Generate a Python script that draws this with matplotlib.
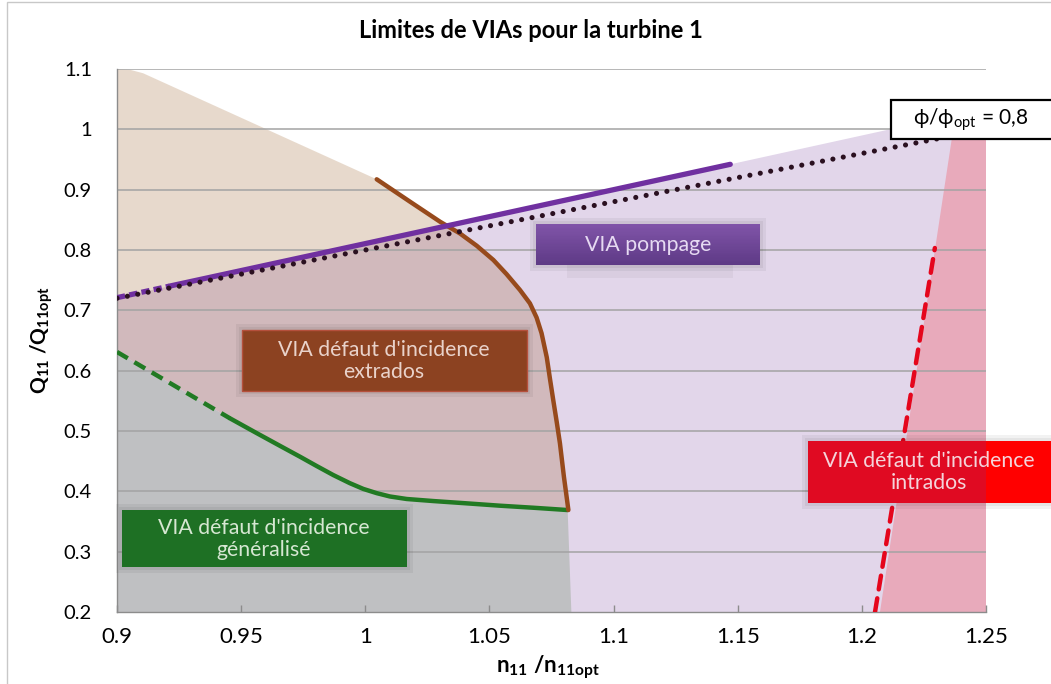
import numpy as np
import matplotlib
matplotlib.use('Agg')
import matplotlib.pyplot as plt
from matplotlib.patches import Polygon, Rectangle

# ---------------- data ----------------
x_ticks = [0.9, 0.95, 1.0, 1.05, 1.1, 1.15, 1.2, 1.25]
x_tick_labels = ['0.9', '0.95', '1', '1.05', '1.1', '1.15', '1.2', '1.25']
y_ticks = [0.2, 0.3, 0.4, 0.5, 0.6, 0.7, 0.8, 0.9, 1.0, 1.1]
y_tick_labels = ['0.2', '0.3', '0.4', '0.5', '0.6', '0.7', '0.8', '0.9', '1', '1.1']

# generalised incidence limit (green)
green_dash_n = [0.9, 0.9455]
green_dash_q = [0.631, 0.521]
green_n = [0.9455, 0.9563, 0.9656, 0.9737, 0.9804, 0.9871, 0.9938, 0.9992, 1.0046,
           1.0099, 1.0167, 1.0274, 1.0408, 1.0542, 1.0677, 1.0815]
green_q = [0.521, 0.4964, 0.4755, 0.4574, 0.4420, 0.4270, 0.4135, 0.4040, 0.3970,
           0.3915, 0.3873, 0.3839, 0.3801, 0.3762, 0.3728, 0.369]

# suction-side incidence limit (brown)
brown_n = [1.0046, 1.0180, 1.0301, 1.0381, 1.0449, 1.0516, 1.0569, 1.0623, 1.0663, 1.0690,
           1.0710, 1.0731, 1.0744, 1.0757, 1.0771, 1.0784, 1.0792, 1.0800, 1.0809, 1.0818]
brown_q = [0.9172, 0.8801, 0.8469, 0.8275, 0.8070, 0.7834, 0.7600, 0.7337, 0.7116, 0.6880,
           0.6620, 0.6220, 0.5860, 0.5513, 0.5150, 0.4796, 0.4519, 0.4242, 0.3967, 0.369]

# upper edge of the extrados zone
tan_top_n = [0.9, 0.905, 0.9105, 1.0046]
tan_top_q = [1.1, 1.099, 1.093, 0.9172]

# pumping limit (purple)
purple_dash_n = [0.9, 0.921]
purple_dash_q = [0.721, 0.740]
purple_n = [0.921, 1.147]
purple_q = [0.740, 0.942]

# upper edge of the pumping zone
pompage_top_n = [0.9, 1.147, 1.2113, 1.25]
pompage_top_q = [0.721, 0.942, 1.0, 1.0]

# phi/phi_opt = 0.8 line
phi_n = [0.9, 1.24]
phi_q = [0.72, 0.992]

# pressure-side incidence zone (pink) left edge
intrados_edge_n = [1.2073, 1.2368]
intrados_edge_q = [0.2, 1.0]

# pressure-side incidence limit (red dashed)
red_n = [1.2053, 1.2294]
red_q = [0.2, 0.8033]

gray_right_n = 1.083

# ---------------- style ----------------
plt.rcParams['font.family'] = ['Lato', 'DejaVu Sans']
plt.rcParams['mathtext.fontset'] = 'custom'
plt.rcParams['mathtext.rm'] = 'Lato'
plt.rcParams['mathtext.bf'] = 'Lato:bold'
plt.rcParams['mathtext.it'] = 'Lato:italic'
plt.rcParams['lines.scale_dashes'] = False

W, H = 1051, 684
fig = plt.figure(figsize=(W / 100, H / 100), dpi=100)
ax = fig.add_axes([117 / W, 1 - 612 / H, 869 / W, 543 / H])
ax.set_xlim(0.9, 1.25)
ax.set_ylim(0.2, 1.1)

# ---------------- filled zones ----------------
lav = list(zip([0.9] + pompage_top_n + [1.25], [0.2] + pompage_top_q + [0.2]))
ax.add_patch(Polygon(lav, closed=True, facecolor='#e2d6ea', edgecolor='none', zorder=1))

pink = [(intrados_edge_n[0], intrados_edge_q[0]), (intrados_edge_n[1], intrados_edge_q[1]),
        (1.25, 1.0), (1.25, 0.2)]
ax.add_patch(Polygon(pink, closed=True, facecolor='#e8aabb', edgecolor='none', zorder=1.1))

all_green_n = green_dash_n + green_n[1:]
all_green_q = green_dash_q + green_q[1:]
tan = (list(zip(tan_top_n, tan_top_q)) + list(zip(brown_n[1:], brown_q[1:]))
       + list(zip(all_green_n[::-1], all_green_q[::-1])))
ax.add_patch(Polygon(tan, closed=True, facecolor=(150 / 255, 86 / 255, 27 / 255), alpha=0.22,
                     edgecolor='none', zorder=1.2))

gray = ([(0.9, 0.2)] + list(zip(all_green_n, all_green_q)) + [(gray_right_n, 0.2)])
ax.add_patch(Polygon(gray, closed=True, facecolor='#bfc0c2', edgecolor='none', zorder=1.3))

# ---------------- grid / axes ----------------
for yv in y_ticks[1:]:
    ax.axhline(yv, color='#a3a3a3', lw=1.1, zorder=2)

ax.set_xticks(x_ticks)
ax.set_xticklabels(x_tick_labels, fontsize=16)
ax.set_yticks(y_ticks)
ax.set_yticklabels(y_tick_labels, fontsize=14.5)
ax.tick_params(axis='x', direction='in', length=5, color='#8c8c8c', width=1, pad=11)
ax.tick_params(axis='y', length=0, pad=18)
for s in ['top', 'right']:
    ax.spines[s].set_visible(False)
for s in ['left', 'bottom']:
    ax.spines[s].set_color('#8c8c8c')
    ax.spines[s].set_linewidth(1)
    ax.spines[s].set_zorder(2.5)
ax.set_facecolor('white')

# ---------------- curves ----------------
ax.plot(green_dash_n, green_dash_q, color='#217a23', lw=3.2, dashes=(9, 5.5), dash_capstyle='butt', zorder=4)
ax.plot(green_n, green_q, color='#217a23', lw=3.2, solid_capstyle='round', solid_joinstyle='round', zorder=4)
ax.plot(brown_n, brown_q, color='#974a1c', lw=3.2, solid_capstyle='round', solid_joinstyle='round', zorder=4)
ax.plot(purple_dash_n, purple_dash_q, color='#7030a0', lw=3.8, dashes=(6, 3), zorder=4)
ax.plot(purple_n, purple_q, color='#7030a0', lw=3.8, solid_capstyle='round', zorder=4)
ax.plot(phi_n, phi_q, color='#2a1020', lw=3.7, dashes=(0.01, 7.6), dash_capstyle='round', zorder=4.5)
ax.plot(red_n, red_q, color='#e5061c', lw=3.2, dashes=(10, 6.5), dash_capstyle='round', zorder=4)

# ---------------- annotation boxes (figure pixel coords) ----------------
def fx(x):
    return x / W

def fy(y):
    return 1 - y / H

def rect(x0, y0, x1, y1, **kw):
    r = Rectangle((fx(x0), fy(y1)), (x1 - x0) / W, (y1 - y0) / H, transform=fig.transFigure, **kw)
    fig.add_artist(r)
    return r

def shadow(x0, y0, x1, y1, z=5):
    rect(x0 - 6, y0 - 6, x1 + 6, y1 + 6, facecolor='black', alpha=0.05, edgecolor='none', zorder=z)
    rect(x0 - 3, y0 - 3, x1 + 3, y1 + 3, facecolor='black', alpha=0.05, edgecolor='none', zorder=z)

TXT = 15.3

# pompage box with vertical gradient
shadow(536, 224, 760, 265)
rect(567, 265, 733, 278, facecolor='black', alpha=0.04, edgecolor='none', zorder=5)
top_c = np.array([128, 84, 168]) / 255
bot_c = np.array([94, 58, 134]) / 255
n_steps = 30
for i in range(n_steps):
    t = i / (n_steps - 1)
    y0 = 224 + (265 - 224) * i / n_steps
    y1 = 224 + (265 - 224) * (i + 1) / n_steps
    rect(536, y0, 760, y1 + 0.3, facecolor=top_c * (1 - t) + bot_c * t, edgecolor='none', zorder=6)
fig.text(fx(648), fy(245), 'VIA pompage', fontsize=TXT, color='#e6daf2', ha='center', va='center', zorder=7)

# extrados box
shadow(242, 330, 527, 391)
rect(242, 330, 527, 391, facecolor='#8c4221', edgecolor='#b5503c', lw=1, zorder=6)
fig.text(fx(384), fy(361), "VIA défaut d'incidence\nextrados", fontsize=TXT, color='#e9d2ca',
         ha='center', va='center', linespacing=1.15, zorder=7)

# generalised box
shadow(122, 510, 407, 567)
rect(122, 510, 407, 567, facecolor='#1e7024', edgecolor='none', zorder=6)
fig.text(fx(264), fy(539), "VIA défaut d'incidence\ngénéralisé", fontsize=TXT, color='#d6e7d2',
         ha='center', va='center', linespacing=1.15, zorder=7)

# intrados box (partly outside plot area)
shadow(808, 441, 1070, 503)
rect(808, 441, 986, 503, facecolor='#e00a22', edgecolor='none', zorder=6)
rect(986, 441, 1070, 503, facecolor='#ff0000', edgecolor='none', zorder=6)
fig.text(fx(929), fy(472), "VIA défaut d'incidence\nintrados", fontsize=TXT, color='#f4d4da',
         ha='center', va='center', linespacing=1.15, zorder=7)

# phi box
rect(891, 100, 1070, 139, facecolor='white', edgecolor='black', lw=1.6, zorder=6)
fig.text(fx(971), fy(120), r'$\mathrm{ϕ/ϕ_{opt}}$ = 0,8', fontsize=15, color='black',
         ha='center', va='center', zorder=7)

# ---------------- titles / labels ----------------
fig.text(fx(531), fy(30), 'Limites de VIAs pour la turbine 1', fontsize=17, fontweight='bold',
         ha='center', va='center')
fig.text(fx(548), fy(667), r'$\mathbf{n_{11}\ /n_{11opt}}$', fontsize=16,
         ha='center', va='center')
fig.text(fx(42), fy(340), r'$\mathbf{Q_{11}\ /Q_{11opt}}$', fontsize=15, rotation=90,
         ha='center', va='center')

# outer chart border
fig.add_artist(Rectangle((fx(7), -0.1), 1.2, fy(2) + 0.1, transform=fig.transFigure,
                         fill=False, edgecolor='#c8c8c8', lw=1, zorder=0))

fig.savefig('out.png', dpi=100, facecolor='white')
